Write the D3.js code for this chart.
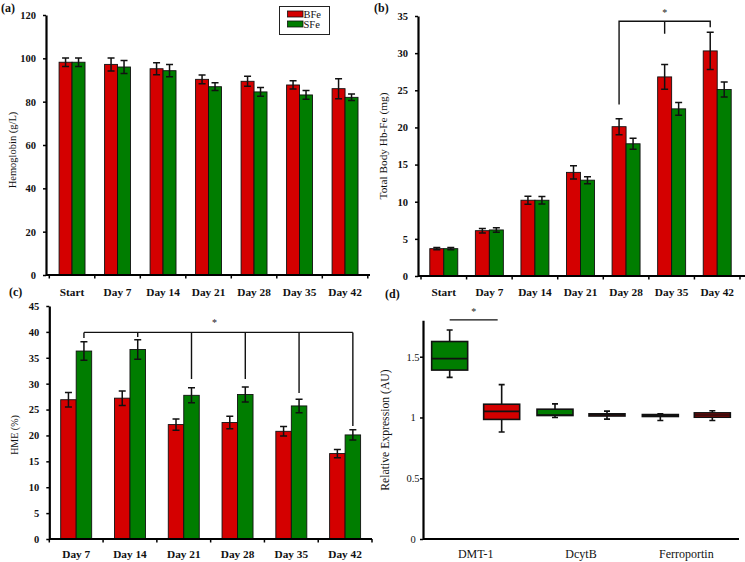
<!DOCTYPE html>
<html><head><meta charset="utf-8">
<script src="https://cdn.jsdelivr.net/npm/d3@7"></script>
<style>
html,body{margin:0;padding:0;background:#fff;}
svg{display:block;}
svg text{font-family:"Liberation Serif","Times New Roman",serif !important;}
</style></head>
<body><svg id="c" width="745" height="562"></svg>
<script>
// ---------- DATA ----------
const series = ["BFe", "SFe"];
const daysAB = ["Start", "Day 7", "Day 14", "Day 21", "Day 28", "Day 35", "Day 42"];
const daysC = ["Day 7", "Day 14", "Day 21", "Day 28", "Day 35", "Day 42"];

const hbBFe = [98.2, 97.2, 95.2, 90.3, 89.4, 87.7, 86.0];
const hbSFe = [98.2, 96.0, 94.3, 86.9, 84.5, 83.1, 82.0];
const hbBFeErr = [2.0, 3.0, 2.8, 2.0, 2.3, 1.9, 4.6];
const hbSFeErr = [2.0, 3.0, 2.8, 1.8, 2.0, 2.0, 1.5];
const hbTicks = [0, 20, 40, 60, 80, 100, 120];

const feBFe = [3.68, 6.1, 10.2, 13.95, 20.1, 26.8, 30.3];
const feSFe = [3.68, 6.2, 10.2, 12.9, 17.8, 22.5, 25.1];
const feBFeErr = [0.15, 0.3, 0.55, 0.9, 1.08, 1.66, 2.5];
const feSFeErr = [0.15, 0.3, 0.5, 0.47, 0.74, 0.87, 1.0];
const feTicks = [0, 5, 10, 15, 20, 25, 30, 35];

const hmeBFe = [26.9, 27.2, 22.1, 22.5, 20.8, 16.5];
const hmeSFe = [36.3, 36.6, 27.75, 27.9, 25.7, 20.1];
const hmeBFeErr = [1.4, 1.4, 1.1, 1.2, 0.93, 0.8];
const hmeSFeErr = [1.8, 1.9, 1.45, 1.45, 1.3, 1.0];
const hmeTicks = [0, 5, 10, 15, 20, 25, 30, 35, 40, 45];

const genes = ["DMT-1", "DcytB", "Ferroportin"];
const boxSeries = ["SFe", "BFe"];
// [min, q1, median, q3, max] per gene, per series (SFe, BFe)
const boxSFe = [[1.33, 1.39, 1.484, 1.625, 1.72], [1.0, 1.016, 1.02, 1.068, 1.112], [0.975, 1.008, 1.016, 1.024, 1.03]];
const boxBFe = [[0.88, 0.984, 1.05, 1.109, 1.27], [0.986, 1.012, 1.022, 1.03, 1.052], [0.975, 1.002, 1.02, 1.038, 1.055]];
const relTicks = [0, 0.5, 1, 1.5];

// significance brackets
const sigB = {from: "Day 28", mid: "Day 35", to: "Day 42", top: 34.3, drops: [23.1, 32.6, 33.5]};
const sigC = {cats: daysC, top: 39.9, drops: [38.8, 39.0, 30.9, 30.9, 28.2, 21.8]};

// ---------- DRAW ----------
const RED = "#d40000", GREEN = "#007d00";
const color = d3.scaleOrdinal().domain(series).range([RED, GREEN]);
const svg = d3.select("#c");

function barPanel(o) {
  const g = svg.append("g");
  const x0 = d3.scaleBand().domain(o.cats).range([o.bx0, o.bx1]).paddingInner(o.pad).paddingOuter(o.pad / 2);
  const x1 = d3.scaleBand().domain(series).range([0, x0.bandwidth()]);
  const y = d3.scaleLinear().domain([0, o.max]).range([o.y0, o.y1]);
  const rows = o.cats.map((c, i) => series.map((s, k) => ({c, s, v: o.vals[k][i], e: o.errs[k][i]}))).flat();
  g.selectAll("rect.bar").data(rows).join("rect")
    .attr("x", d => x0(d.c) + x1(d.s)).attr("width", x1.bandwidth())
    .attr("y", d => y(d.v)).attr("height", d => y(0) - y(d.v))
    .attr("fill", d => color(d.s)).attr("stroke", "#111").attr("stroke-width", 0.9);
  const cx = d => x0(d.c) + x1(d.s) + x1.bandwidth() / 2;
  const eg = g.append("g").attr("stroke", "#111").attr("stroke-width", 1.5).attr("fill", "none");
  eg.selectAll("path").data(rows).join("path")
    .attr("d", d => {
      const X = cx(d), t = y(d.v + d.e), b = y(d.v - d.e);
      return `M${X - 3.5},${t}H${X + 3.5}M${X},${t}V${b}M${X - 3.5},${b}H${X + 3.5}`;
    });
  // y axis
  const ya = d3.axisLeft(y).tickValues(o.ticks).tickSize(3).tickSizeOuter(0).tickPadding(7).tickFormat(d3.format("d"));
  const ag = g.append("g").attr("transform", `translate(${o.ax},0)`).call(ya);
  ag.select(".domain").attr("stroke-width", 2.2).attr("stroke", "#000");
  ag.selectAll(".tick line").attr("stroke-width", 1.5);
  ag.selectAll(".tick text").attr("font-size", 10.5).attr("font-weight", "bold").attr("fill", "#111");
  // x axis line + boundary ticks
  g.append("line").attr("x1", o.ax).attr("x2", o.xend).attr("y1", y(0)).attr("y2", y(0)).attr("stroke", "#000").attr("stroke-width", 2.2);
  const bounds = d3.range(o.cats.length + 1).map(i => o.bx0 + i * x0.step());
  g.selectAll("line.bt").data(bounds).join("line").attr("class", "bt")
    .attr("x1", d => d).attr("x2", d => d).attr("y1", y(0)).attr("y2", y(0) + 3.5)
    .attr("stroke", "#000").attr("stroke-width", 1.5);
  // category labels
  g.selectAll("text.cl").data(o.cats).join("text").attr("class", "cl")
    .attr("x", d => x0(d) + x0.bandwidth() / 2).attr("y", o.labY)
    .attr("text-anchor", "middle").attr("font-size", 11.3).attr("font-weight", "bold").attr("fill", "#111").text(d => d);
  // y title
  g.append("text").attr("transform", `translate(${o.titX},${o.titY}) rotate(-90)`)
    .attr("text-anchor", "middle").attr("font-size", o.titSize).attr("fill", "#111").text(o.title);
  return {x0, x1, y, g};
}

// (a)
const A = barPanel({cats: daysAB, vals: [hbBFe, hbSFe], errs: [hbBFeErr, hbSFeErr], bx0: 49.3, bx1: 367.8, pad: 0.43,
  max: 120, y0: 275, y1: 15, ticks: hbTicks, ax: 46, xend: 370, labY: 295.5, title: "Hemoglobin (g/L)", titX: 16, titY: 150, titSize: 10.5});
// legend
const lg = svg.append("g");
lg.append("rect").attr("x", 279.5).attr("y", 6.5).attr("width", 50).attr("height", 28).attr("fill", "#fff").attr("stroke", "#222").attr("stroke-width", 1);
series.forEach((s, i) => {
  lg.append("rect").attr("x", 287.5).attr("y", 11 + i * 10).attr("width", 15.5).attr("height", 6).attr("fill", color(s)).attr("stroke", "#111").attr("stroke-width", 0.8);
  lg.append("text").attr("x", 303.5).attr("y", 18.3 + i * 10).attr("font-size", 10.5).attr("fill", "#111").text(s);
});

// (b)
const B = barPanel({cats: daysAB, vals: [feBFe, feSFe], errs: [feBFeErr, feSFeErr], bx0: 421, bx1: 740, pad: 0.386,
  max: 35, y0: 276, y1: 16, ticks: feTicks, ax: 418, xend: 745, labY: 296, title: "Total Body Hb-Fe (mg)", titX: 387, titY: 146, titSize: 11.3});
{
  const bx = c => B.x0(c) + B.x1("BFe") + B.x1.bandwidth() / 2;
  const xs = [bx(sigB.from), bx(sigB.mid), bx(sigB.to)];
  const yt = B.y(sigB.top);
  const p = `M${xs[0]},${B.y(sigB.drops[0])}V${yt}H${xs[2]}V${B.y(sigB.drops[2])}M${xs[1]},${yt}V${B.y(sigB.drops[1])}`;
  B.g.append("path").attr("d", p).attr("fill", "none").attr("stroke", "#111").attr("stroke-width", 1.4);
  B.g.append("text").attr("x", xs[1]).attr("y", 16).attr("text-anchor", "middle").attr("font-size", 10).attr("fill", "#222").text("*");
}

// (c)
const C = barPanel({cats: daysC, vals: [hmeBFe, hmeSFe], errs: [hmeBFeErr, hmeSFeErr], bx0: 49.3, bx1: 372, pad: 0.424,
  max: 45, y0: 539, y1: 306, ticks: hmeTicks, ax: 49.3, xend: 372, labY: 558, title: "HME (%)", titX: 18, titY: 435, titSize: 10});
{
  const gx = c => C.x0(c) + C.x1("SFe") + C.x1.bandwidth() / 2;
  const xs = sigC.cats.map(gx);
  const yt = C.y(sigC.top);
  let p = `M${xs[0]},${yt}H${xs[xs.length - 1]}`;
  xs.forEach((x, i) => { p += `M${x},${yt}V${C.y(sigC.drops[i])}`; });
  C.g.append("path").attr("d", p).attr("fill", "none").attr("stroke", "#111").attr("stroke-width", 1.4);
  C.g.append("text").attr("x", (xs[2] + xs[3]) / 2 - 4).attr("y", 326).attr("text-anchor", "middle").attr("font-size", 10).attr("fill", "#222").text("*");
}

// (d)
{
  const g = svg.append("g");
  const xg = d3.scaleBand().domain(genes).range([423, 739]);
  const xs = d3.scalePoint().domain(boxSeries).range([-26, 26]);
  const boxColor = d3.scaleOrdinal().domain(boxSeries).range([GREEN, RED]);
  const y = d3.scaleLinear().domain([0, 1.8]).range([539, 539 - 1.8 * 121.53]);
  const rows = genes.map((gn, i) => boxSeries.map(s => ({gn, s, st: (s === "SFe" ? boxSFe : boxBFe)[i]}))).flat();
  const cx = d => xg(d.gn) + xg.bandwidth() / 2 + xs(d.s);
  const bw = 36;
  const bg = g.selectAll("g.box").data(rows).join("g").attr("class", "box");
  bg.append("path").attr("fill", "none").attr("stroke", "#111").attr("stroke-width", 1.6)
    .attr("d", d => {
      const X = cx(d), [mn, q1, md, q3, mx] = d.st;
      return `M${X - 3},${y(mx)}H${X + 3}M${X},${y(mx)}V${y(q3)}M${X},${y(q1)}V${y(mn)}M${X - 3},${y(mn)}H${X + 3}`;
    });
  bg.append("rect").attr("x", d => cx(d) - bw / 2).attr("width", bw)
    .attr("y", d => y(d.st[3])).attr("height", d => Math.max(0.5, y(d.st[1]) - y(d.st[3])))
    .attr("fill", d => boxColor(d.s)).attr("stroke", "#111").attr("stroke-width", 1.6);
  bg.append("line").attr("x1", d => cx(d) - bw / 2).attr("x2", d => cx(d) + bw / 2)
    .attr("y1", d => y(d.st[2])).attr("y2", d => y(d.st[2])).attr("stroke", "#111").attr("stroke-width", 1.6);
  // axes
  const ya = d3.axisLeft(y).tickValues(relTicks).tickSize(3).tickSizeOuter(0).tickPadding(4).tickFormat(d => d3.format("")(d));
  const ag = g.append("g").attr("transform", "translate(423,0)").call(ya);
  ag.select(".domain").attr("stroke-width", 2.2).attr("stroke", "#000");
  ag.selectAll(".tick line").attr("stroke-width", 1.5);
  ag.selectAll(".tick text").attr("font-size", 10.5).attr("fill", "#111")
    .attr("text-anchor", "middle").attr("x", -10);
  g.append("line").attr("x1", 423).attr("x2", 739).attr("y1", y(0)).attr("y2", y(0)).attr("stroke", "#000").attr("stroke-width", 2.2);
  g.selectAll("text.gl").data(genes).join("text").attr("class", "gl")
    .attr("x", d => xg(d) + xg.bandwidth() / 2).attr("y", 557.5).attr("text-anchor", "middle")
    .attr("font-size", 12).attr("fill", "#111").text(d => d);
  g.append("text").attr("transform", "translate(389,430) rotate(-90)").attr("text-anchor", "middle")
    .attr("font-size", 11.7).attr("fill", "#111").text("Relative Expression (AU)");
  // significance
  const a = cx(rows[0]), b = cx(rows[1]) - 4;
  g.append("line").attr("x1", a).attr("x2", b).attr("y1", y(1.803)).attr("y2", y(1.803)).attr("stroke", "#111").attr("stroke-width", 1.4);
  g.append("text").attr("x", (a + b) / 2).attr("y", 315).attr("text-anchor", "middle").attr("font-size", 10).attr("fill", "#222").text("*");
}

// panel letters
[["(a)", 1, 12], ["(b)", 374, 12], ["(c)", 9, 296], ["(d)", 385, 298]].forEach(([t, x, yy]) => {
  svg.append("text").attr("x", x).attr("y", yy).attr("font-size", 12).attr("font-weight", "bold").attr("fill", "#111").text(t);
});
</script></body></html>
